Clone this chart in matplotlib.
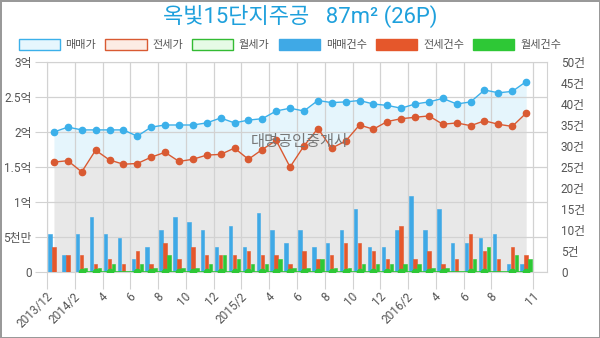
#!/usr/bin/env python3

import numpy
import matplotlib
matplotlib.use("Agg")
import matplotlib.pyplot as plt
import matplotlib.patches as mpatches
import matplotlib.transforms as mtransforms

nan = numpy.nan

#-------------------------------------------------------------
# data (prices in 억, counts in 건)
months = ["2013/12"] + ["2014/%d" % m for m in range(1, 13)] \
         + ["2015/%d" % m for m in range(1, 13)] \
         + ["2016/%d" % m for m in range(1, 12)]

sale_price = [2.00, 2.07, 2.03, 2.03, 2.03, 2.03, 1.94, 2.07, 2.10, 2.10,
              2.10, 2.13, 2.20, 2.13, 2.17, 2.19, 2.30, 2.34, 2.30, 2.45,
              2.42, 2.43, 2.45, 2.40, 2.38, 2.34, 2.40, 2.43, 2.48, 2.40,
              2.43, 2.60, 2.56, 2.58, 2.72, nan]
jeonse_price = [1.57, 1.59, 1.43, 1.74, 1.60, 1.54, 1.55, 1.64, 1.71, 1.58,
                1.61, 1.67, 1.68, 1.77, 1.61, 1.75, 1.88, 1.50, 1.80, 2.05,
                1.77, 1.87, 2.10, 2.04, 2.15, 2.19, 2.21, 2.23, 2.11, 2.13,
                2.09, 2.16, 2.11, 2.08, 2.27, nan]
wolse_price = [nan, nan, 0, 0, 0, nan, 0, 0, 0, 0,
               0, 0, 0, 0, 0, 0, 0, 0, 0, 0,
               0, 0, 0, 0, 0, 0, 0, 0, 0, nan,
               0, 0, nan, 0, 0, nan]

sale_count = [9, 4, 9, 13, 9, 8, 3, 6, 10, 13, 12, 10, 6, 11, 6, 14, 10, 7,
              10, 6, 7, 10, 15, 6, 6, 10, 18, 10, 15, 7, 7, 8, 9, 2, 2, 0]
jeonse_count = [6, 4, 4, 2, 3, 2, 5, 2, 7, 3, 6, 4, 4, 4, 5, 4, 4, 2,
                5, 3, 4, 7, 7, 5, 3, 11, 3, 5, 2, 3, 9, 5, 3, 6, 4, 0]
wolse_count = [0, 0, 1, 1, 2, 0, 2, 1, 4, 1, 1, 2, 4, 3, 2, 2, 3, 1,
               1, 3, 1, 1, 2, 2, 2, 2, 2, 1, 1, 0, 3, 6, 0, 4, 3, 0]

tick_idx = [0, 2, 4, 6, 8, 10, 12, 14, 16, 18, 20, 22, 24, 26, 28, 30, 32, 35]
tick_labels = ["2013/12", "2014/2", "4", "6", "8", "10", "12", "2015/2",
               "4", "6", "8", "10", "12", "2016/2", "4", "6", "8", "11"]

price_ticks = [0, 0.5, 1, 1.5, 2, 2.5, 3]
price_labels = ["0", "5천만", "1억", "1.5억", "2억", "2.5억", "3억"]
count_ticks = [0, 5, 10, 15, 20, 25, 30, 35, 40, 45, 50]
count_labels = ["0"] + ["%d건" % v for v in count_ticks[1:]]

#-------------------------------------------------------------
BLUE = "#3cb0ea"
ORANGE = "#d95a32"
GREEN = "#2ec836"
BAR_BLUE = "#3fa9e6"
BAR_ORANGE = "#e5572b"
BAR_GREEN = "#2ec836"
TXT = "#555555"
GRID = "#d2d2d2"

#-------------------------------------------------------------
def main():

    plt.rcParams['font.family'] = ['Roboto', 'Noto Sans CJK KR', 'DejaVu Sans']

    fig = plt.figure(figsize=(6, 3.38), dpi=100)
    fig.patch.set_edgecolor("#999999")
    fig.patch.set_linewidth(2)

    ax = fig.add_axes([47/600, 66/338, 500/600, 210/338])
    ax2 = ax.twinx()
    ax3 = ax.twinx()

    x = numpy.arange(len(months))
    sale = numpy.array(sale_price)
    jeonse = numpy.array(jeonse_price)
    wolse = numpy.array(wolse_price, dtype=float)

    #price areas
    ax.fill_between(x, 0, jeonse, color="#e8e8e8", lw=0)
    ax.fill_between(x, jeonse, sale, color="#e5f5fc", lw=0)

    ax.set_xlim(-0.5, len(months) - 0.5)
    ax.set_ylim(0, 3)
    ax.set_yticks(price_ticks)
    ax.set_yticklabels(price_labels)
    ax.set_xticks([i - 0.5 for i in tick_idx])
    ax.set_xticklabels(tick_labels, rotation=45, ha="right")
    ax.grid(True, color=GRID, lw=0.9)
    ax.tick_params(axis="both", colors=GRID, labelcolor=TXT, labelsize=8.5)
    ax.tick_params(axis="y", length=9, pad=2)
    ax.tick_params(axis="x", length=12, pad=1)
    offset = mtransforms.ScaledTranslation(8/100, 0, fig.dpi_scale_trans)
    for lab in ax.get_xticklabels():
        lab.set_transform(lab.get_transform() + offset)
    for s in ax.spines.values():
        s.set_color(GRID)

    #count bars
    w = 0.25
    ax2.bar(x - 0.29, sale_count, w, color=BAR_BLUE, edgecolor=BAR_BLUE, lw=0.4, zorder=2)
    ax2.bar(x, jeonse_count, w, color=BAR_ORANGE, edgecolor=BAR_ORANGE, lw=0.4, zorder=2)
    ax2.bar(x + 0.29, wolse_count, w, color=BAR_GREEN, edgecolor=BAR_GREEN, lw=0.4, zorder=2)
    ax2.set_ylim(0, 50)
    ax2.set_yticks(count_ticks)
    ax2.set_yticklabels(count_labels)
    ax2.tick_params(axis="y", length=0, pad=10, labelcolor=TXT, labelsize=8.5)
    for s in ax2.spines.values():
        s.set_visible(False)

    #price lines on top
    ax3.set_ylim(0, 3)
    ax3.plot(x, sale, color=BLUE, lw=1, marker="o", ms=4.5, zorder=3)
    ax3.plot(x, jeonse, color=ORANGE, lw=1, marker="o", ms=4.5, zorder=3)
    ok = ~numpy.isnan(wolse)
    ax3.plot(x[ok], wolse[ok], color=GREEN, lw=1.2, marker="o", ms=4.5, zorder=3)
    ax3.axis("off")

    ax3.text(0.506, 0.62, "대명공인중개사", transform=ax3.transAxes,
             ha="center", va="center", fontsize=11, color="#777777")

    #title, scaled to the reference width
    title = fig.text(0.5, 1 - 16/338, "옥빛15단지주공   87m² (26P)", ha="center",
                     va="center", fontsize=16, color="#1ea0dc")
    renderer = fig.canvas.get_renderer()
    bb = title.get_window_extent(renderer)
    title.set_fontsize(16 * 275 / bb.width)

    handles = [mpatches.Patch(facecolor="#e6f6fd", edgecolor=BLUE, label="매매가"),
               mpatches.Patch(facecolor="#fcece4", edgecolor=ORANGE, label="전세가"),
               mpatches.Patch(facecolor="#e6fbe6", edgecolor="#33bb33", label="월세가"),
               mpatches.Patch(facecolor=BAR_BLUE, edgecolor=BAR_BLUE, label="매매건수"),
               mpatches.Patch(facecolor=BAR_ORANGE, edgecolor=BAR_ORANGE, label="전세건수"),
               mpatches.Patch(facecolor=BAR_GREEN, edgecolor=BAR_GREEN, label="월세건수")]
    leg = fig.legend(handles=handles, loc="center left",
                     bbox_to_anchor=(13/600, 1 - 44.5/338),
                     ncol=6, frameon=False, fontsize=8, borderpad=0,
                     handlelength=3.7, handleheight=1.1, handletextpad=0.5,
                     columnspacing=0.85)
    for t in leg.get_texts():
        t.set_color(TXT)

    fig.savefig("out.png", dpi=100)
    plt.close()

#-------------------------------------------------------------
if __name__ == "__main__":
    main()
